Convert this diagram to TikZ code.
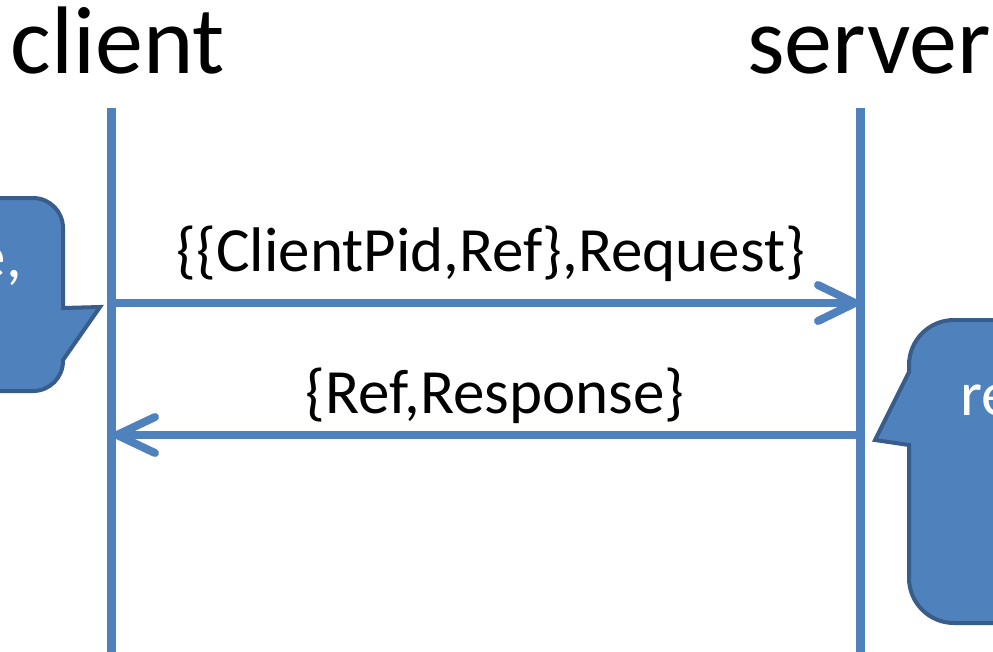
\documentclass[tikz,border=0pt]{standalone}
\usepackage{fontspec}
\setmainfont{Carlito}
\usetikzlibrary{calc}
\definecolor{lineblue}{HTML}{4F81BD}
\definecolor{boxborder}{HTML}{385D8A}
\begin{document}
\begin{tikzpicture}[x=1pt,y=-1pt,
  lifeline/.style={draw=lineblue,line width=9pt},
  msg/.style={draw=lineblue,line width=8pt,line cap=round,line join=round},
  callout/.style={fill=lineblue,draw=boxborder,line width=4pt,line join=miter},
  title/.style={anchor=base,inner sep=0pt,font=\fontsize{96}{96}\selectfont},
  msglabel/.style={anchor=base,inner sep=0pt,font=\fontsize{63}{63}\selectfont},
  callouttext/.style={inner sep=0pt,text=white,font=\fontsize{63}{63}\selectfont}]
\useasboundingbox (0,0) rectangle (993,651);
\clip (0,0) rectangle (993,651);
% titles
\node[title] (client) at (118,73) {client};
\node[title] (server) at (869,73) {server};
% lifelines
\coordinate (ctop) at (111,108);
\coordinate (cbot) at (111,660);
\coordinate (stop) at (860,108);
\coordinate (sbot) at (860,660);
\draw[lifeline] (ctop) -- (cbot);
\draw[lifeline] (stop) -- (sbot);
% callouts
\draw[callout] (-40,198) -- (33,198) arc[start angle=-90,end angle=0,radius=30]
  -- (63,308) -- (100,307) -- (63,360) -- (63,361)
  arc[start angle=0,end angle=90,radius=30] -- (-40,391) -- cycle;
\node[callouttext,anchor=base east] (ltext) at (22,277) {e,};
\draw[callout] (1040,320) -- (954,320) arc[start angle=-90,end angle=-180,radius=45]
  -- (909,372) -- (875,440) -- (909,445) -- (909,578)
  arc[start angle=180,end angle=90,radius=45] -- (1040,623) -- cycle;
\node[callouttext,anchor=base west] (rtext) at (960,415) {re};
% messages
\coordinate (req c) at (115,303);
\coordinate (req s) at (855,303);
\coordinate (rsp s) at (855,435);
\coordinate (rsp c) at (117,435);
\draw[msg] (req c) -- (req s);
\draw[msg] ($(req s)+(-37,-18)$) -- (req s) -- ($(req s)+(-37,18)$);
\draw[msg] (rsp s) -- (rsp c);
\draw[msg] ($(rsp c)+(38,-18)$) -- (rsp c) -- ($(rsp c)+(38,18)$);
\node[msglabel] (reqlabel) at (491,271) {\{\{ClientPid,Ref\},Request\}};
\node[msglabel] (rsplabel) at (495,413) {\{Ref,Response\}};
\end{tikzpicture}
\end{document}
